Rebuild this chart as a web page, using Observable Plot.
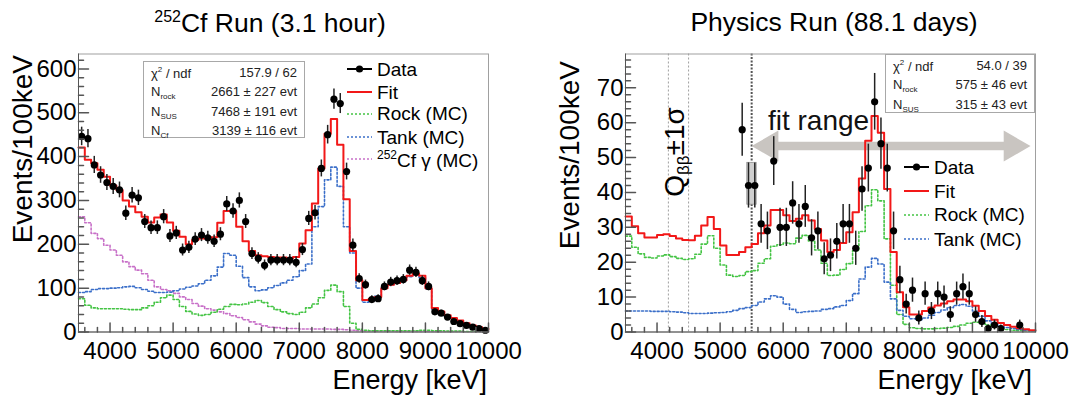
<!DOCTYPE html>
<html><head><meta charset="utf-8">
<script src="https://cdn.jsdelivr.net/npm/d3@7"></script>
<script src="https://cdn.jsdelivr.net/npm/@observablehq/plot@0.6"></script>
<style>
body{margin:0;background:#fff;font-family:"Liberation Sans",Arial,Helvetica,sans-serif;}
#wrap{position:relative;width:1070px;height:399px;overflow:hidden;background:#fff;}
.abs{position:absolute;white-space:nowrap;color:#000;line-height:1;}
.stats{position:absolute;border:1px solid #a8a8a8;background:#fff;font-size:13px;color:#222;box-sizing:border-box;}
.stats .row{position:absolute;left:7px;right:7px;height:16px;}
.stats .row span{position:absolute;top:0;}
.stats .row .v{right:0;}
.stats sub{font-size:8px;vertical-align:-3px;}
.stats sup{font-size:8px;vertical-align:6px;}
.leg{position:absolute;font-size:19px;white-space:nowrap;line-height:1;}
.leg svg{position:absolute;}
.leg span{position:absolute;}
</style></head><body><div id="wrap"></div>
<script>
// ---------- data ----------
const binLow = [3500,3600,3700,3800,3900,4000,4100,4200,4300,4400,4500,4600,4700,4800,4900,5000,5100,5200,5300,5400,5500,5600,5700,5800,5900,6000,6100,6200,6300,6400,6500,6600,6700,6800,6900,7000,7100,7200,7300,7400,7500,7600,7700,7800,7900,8000,8100,8200,8300,8400,8500,8600,8700,8800,8900,9000,9100,9200,9300,9400,9500,9600,9700,9800,9900];
const binWidth = 100;
const xRange = [3500, 10000];

// Cf run (left)
const cfData = [446,441,381,358,341,332,324,271,312,306,252,238,238,263,219,226,187,193,212,221,215,207,223,292,276,300,252,179,168,152,164,164,164,164,159,188,259,272,373,450,531,521,366,198,122,108,74,76,104,114,117,120,141,136,117,104,46,43,34,24,19,15,11,8,4];
const cfFit  = [421,393,385,370,354,334,324,300,286,273,263,250,261,268,250,231,217,200,210,213,213,216,249,276,276,240,207,185,175,173,171,170,170,168,171,202,232,293,373,452,486,427,303,185,118,73,75,80,100,108,112,118,128,133,128,100,55,47,38,32,26,20,15,11,7];
const cfRock = [76,61,55,53,53,53,53,52,51,51,55,60,68,78,84,74,58,47,41,38,40,45,52,58,63,62,64,68,72,67,58,51,46,42,40,45,55,64,78,95,107,92,58,20,6,4,3,3,3,3,3,3,3,3,4,4,3,3,2,2,2,1,1,1,0.5];
const cfTank = [90,92,97,99,99,100,101,103,104,101,97,93,90,90,91,94,98,102,105,110,118,128,148,179,175,150,124,103,94,96,101,106,112,118,126,140,155,240,286,347,376,332,240,180,100,68,72,82,100,108,112,118,126,130,124,98,52,45,36,30,25,19,14,10,5];
const cfGamma = [263,249,225,213,198,187,175,160,149,141,133,118,103,97,94,88,80,74,65,59,53,50,46,42,37,33,28,23,18,14,11,10,8,8,8,7,7,7,7,7,6,6,5,4,3,2,2,2,2,2,1.5,1.5,1.5,1.5,1.5,1,1,1,1,1,1,0.5,0.5,0.5,0.5];

// Physics run (right)
const phE = [5350,5450,5550,5650,5750,5850,5950,6050,6150,6250,6350,6450,6550,6650,6750,6850,6950,7050,7150,7250,7350,7450,7550,7650,7750,7850,7950,8050,8150,8250,8350,8450,8550,8650,8750,8850,8950,9050,9150,9250,9350,9450,9750];
const phData = [58,42,42,31,29,49,30,30,37,31,36,27,29,21,22,26,31,31,24,41,47,66,54,47,29,15,8,12,4,11,6,11,10,5,11,13,11,5,3,1,2,1,2];
const phFit  = [33.1,30.3,28.3,27.1,27.1,27.8,28.0,27.5,26.8,26.4,26.3,27.6,30.5,33.0,29.5,24.8,22.1,22.1,22.9,24.3,25.2,28.3,30.5,35.0,35.0,33.5,31.8,32.5,33.5,32.0,29.5,26.2,22.9,23.5,25.5,28.6,34.3,44.0,54.8,61.9,57.1,41.0,22.9,11.4,7.1,5.0,5.0,6.0,7.0,7.6,8.2,8.8,9.3,9.3,8.8,7.5,6.0,4.6,3.5,2.6,2.0,1.5,1.1,0.8,0.5];
const phRock = [27.5,24.3,22.4,21.4,21.2,21.8,22.1,21.6,21.1,20.8,21.0,22.3,25.2,27.6,24.0,19.2,16.3,15.9,16.2,17.3,17.6,19.7,21.0,24.6,25.0,25.5,25.3,26.9,27.7,26.1,23.5,19.7,16.2,16.3,17.9,19.6,23.3,28.8,36.2,40.8,37.6,26.7,13.4,5.0,2.2,1.2,1.0,0.9,0.9,1.0,1.1,1.3,1.6,2.0,2.5,2.8,2.5,2.0,1.5,1.0,0.7,0.5,0.4,0.3,0.2];
const phTank = [6.0,6.0,6.0,6.0,5.9,5.9,5.9,5.8,5.7,5.5,5.3,5.3,5.3,5.4,5.5,5.6,5.8,6.2,6.7,7.0,7.6,8.6,9.5,10.4,10.0,8.0,6.5,5.6,5.8,5.9,6.0,6.5,6.7,7.2,7.6,9.0,11.0,15.2,18.6,21.1,19.5,14.3,9.5,6.2,4.5,3.8,3.5,4.0,4.8,5.6,6.3,7.0,7.6,7.9,7.4,6.0,4.5,3.2,2.3,1.7,1.3,1.0,0.7,0.5,0.3];

// annotations (right)
const qbbLines = [4180, 4500];
const fitRangeStart = [5500];
const fitRangeArrow = [{x1: 5500, x2: 9920, y: 53.3}];
const fitRangeLabel = [{x: 6560, y: 60.6, text: "fit range"}];
const qbbLabel = {x: 4310, y: 51.6};
const sysBox = [{x1: 5430, x2: 5580, y1: 36.5, y2: 48.5}];

// axes
const xMajor = [4000,5000,6000,7000,8000,9000,10000];
const yMajorL = [0,100,200,300,400,500,600];
const yMajorR = [0,10,20,30,40,50,60,70];

// colors / styles
const C = {fit:"#f21818", rock:"#44c444", tank:"#3b6fc9", gamma:"#c870c8", data:"#000"};

// ---------- helpers ----------
const stepTable = vals => binLow.map((x,i)=>({x, y: vals[i]})).concat([{x: xRange[1], y: vals[vals.length-1]}]);
const tickShape = {draw(ctx, l){ ctx.moveTo(0,0); ctx.lineTo(0,-l); }};
const hist = (vals, color, dashed, w) => Plot.line(stepTable(vals), {x:"x", y:"y", curve:"step-after", stroke: color, strokeWidth: w, strokeDasharray: dashed ? "2,2" : null});

function panel({yMax, yMajor, yMinorStep, comps, fit, pts, extraBack = [], extraFront = [], marginLeft, marginRight}) {
  const yMinor = d3.range(0, yMax, yMinorStep).filter(v => !yMajor.includes(v));
  const xMinor = d3.range(3600, 10000, 200).filter(v => !xMajor.includes(v));
  return Plot.plot({
    width: 535, height: 359,
    marginLeft, marginRight, marginTop: 13.5, marginBottom: 67.5,
    x: {domain: xRange, axis: null},
    y: {domain: [0, yMax], axis: null},
    style: {fontFamily: "'Liberation Sans', Arial, Helvetica, sans-serif", fontSize: "24px", color: "#000", background: "transparent", overflow: "visible"},
    marks: [
      ...extraBack,
      ...comps.map(c => hist(c.vals, c.color, true, 1.6)),
      hist(fit, C.fit, false, 2),
      Plot.ruleX(pts, {x: "x", y1: d => d.y - Math.sqrt(d.y), y2: d => d.y + Math.sqrt(d.y), stroke: "#222", strokeWidth: 1.5}),
      Plot.dot(pts, {x: "x", y: "y", r: 3.6, fill: C.data, stroke: null}),
      ...extraFront,
      Plot.frame({stroke: "#a0a0a0"}),
      Plot.ruleX([xRange[0]], {stroke: "#555", strokeWidth: 1}),
      Plot.ruleY([0], {stroke: "#555", strokeWidth: 1}),
      Plot.vector(yMajor, {y: d => d, frameAnchor: "left", length: 10, rotate: 90, anchor: "start", shape: tickShape, stroke: "#555"}),
      Plot.vector(yMinor, {y: d => d, frameAnchor: "left", length: 5, rotate: 90, anchor: "start", shape: tickShape, stroke: "#555"}),
      Plot.vector(xMajor, {x: d => d, frameAnchor: "bottom", length: 9, rotate: 0, anchor: "start", shape: tickShape, stroke: "#555"}),
      Plot.vector(xMinor, {x: d => d, frameAnchor: "bottom", length: 4.5, rotate: 0, anchor: "start", shape: tickShape, stroke: "#555"}),
      Plot.axisY({ticks: yMajor, tickSize: 0, tickPadding: 2, fontSize: 24, label: null, tickFormat: d => String(d)}),
      Plot.axisX({ticks: xMajor, tickSize: 0, tickPadding: 10, fontSize: 24, label: null, tickFormat: d => String(d)})
    ]
  });
}

const wrap = document.getElementById("wrap");
function place(el, left, top) { el.style.position = "absolute"; el.style.left = left + "px"; el.style.top = top + "px"; wrap.appendChild(el); return el; }
function div(cls, html, css) { const d = document.createElement("div"); d.className = cls; d.innerHTML = html; Object.assign(d.style, css || {}); wrap.appendChild(d); return d; }

// ---------- left panel ----------
const leftPlot = panel({
  yMax: 634, yMajor: yMajorL, yMinorStep: 20,
  comps: [{vals: cfGamma, color: C.gamma}, {vals: cfRock, color: C.rock}, {vals: cfTank, color: C.tank}],
  fit: cfFit,
  pts: binLow.map((x,i) => ({x: x + binWidth/2, y: cfData[i]})),
  marginLeft: 78, marginRight: 47
});
place(leftPlot, 0, 40);

// ---------- right panel ----------
const rightPlot = panel({
  yMax: 79.7, yMajor: yMajorR, yMinorStep: 2,
  comps: [{vals: phRock, color: C.rock}, {vals: phTank, color: C.tank}],
  fit: phFit,
  pts: phE.map((x,i) => ({x, y: phData[i]})),
  extraBack: [
    Plot.ruleX(qbbLines, {stroke: "#888", strokeWidth: 0.8, strokeDasharray: "2,2"}),
    Plot.ruleX(fitRangeStart, {stroke: "#555", strokeWidth: 2, strokeDasharray: "2,1.5"}),
    Plot.ruleY(fitRangeArrow, {x1: "x1", x2: "x2", y: "y", stroke: "#c9c5c1", strokeWidth: 8.5, insetLeft: 18, insetRight: 18}),
    Plot.dot(fitRangeArrow, {x: "x1", y: "y", symbol: "triangle", r: 11.5, rotate: -90, dx: 17.8, fill: "#c9c5c1", stroke: null}),
    Plot.dot(fitRangeArrow, {x: "x2", y: "y", symbol: "triangle", r: 11.5, rotate: 90, dx: -17.8, fill: "#c9c5c1", stroke: null}),
    Plot.rect(sysBox, {x1: "x1", x2: "x2", y1: "y1", y2: "y2", fill: "#cfcfcf", stroke: "#9a9a9a", strokeWidth: 0.8}),
    Plot.text(fitRangeLabel, {x: "x", y: "y", text: "text", fontSize: 28, fill: "#111"})
  ],
  marginLeft: 90, marginRight: 35
});
place(rightPlot, 535, 40);

// Q_bb label (rotated) placed through the plot's scales
{
  const sx = rightPlot.scale("x"), sy = rightPlot.scale("y");
  const px = 535 + sx.apply(qbbLabel.x), py = 40 + sy.apply(qbbLabel.y);
  const d = div("abs", "Q<sub style='font-size:17px;vertical-align:-5px'>ββ</sub>±1σ", {fontSize: "28px"});
  d.style.left = px + "px"; d.style.top = py + "px";
  d.style.transformOrigin = "0 0";
  d.style.transform = "rotate(-90deg) translate(-50%,-50%)";
}

// ---------- titles ----------
div("abs", "<sup style='font-size:16px;vertical-align:10px'>252</sup>Cf Run (3.1 hour)", {fontSize: "26.5px", left: "270px", top: "9px", transform: "translateX(-50%)"});
div("abs", "Physics Run (88.1 days)", {fontSize: "26.5px", left: "834px", top: "9px", transform: "translateX(-50%)"});

// axis titles
for (const [x, yTop] of [[23, 55], [570, 61]]) {
  div("abs", "Events/100keV", {fontSize: "28px", left: x + "px", top: yTop + "px", transformOrigin: "0 0", transform: "rotate(-90deg) translate(-100%,-50%)"});
}
for (const xr of [487, 1032]) {
  div("abs", "Energy [keV]", {fontSize: "27px", left: xr + "px", top: "367px", transform: "translateX(-100%)"});
}

// ---------- stats boxes ----------
function stats(left, top, w, h, rows) {
  return div("stats", rows.map((r, i) => `<div class="row" style="top:${3 + i*19.4}px"><span>${r[0]}</span><span class="v">${r[1]}</span></div>`).join(""), {left: left+"px", top: top+"px", width: w+"px", height: h+"px"});
}
stats(143, 61, 162, 77, [
  ["χ<sup>2</sup> / ndf", "157.9 / 62"],
  ["N<sub>rock</sub>", "2661 ± 227 evt"],
  ["N<sub>SUS</sub>", "7468 ± 191 evt"],
  ["N<sub>Cf</sub>", "3139 ± 116 evt"]
]);
stats(885, 54, 150, 59, [
  ["χ<sup>2</sup> / ndf", "54.0 / 39"],
  ["N<sub>rock</sub>", "575 ± 46 evt"],
  ["N<sub>SUS</sub>", "315 ± 43 evt"]
]);

// ---------- legends ----------
function legend(x0, ys, items) {
  items.forEach((it, i) => {
    const y = ys[i];
    const dash = it.dash ? "stroke-dasharray='2,2'" : "";
    const dot = it.dot ? `<circle cx='12.5' cy='5' r='3.6' fill='#000'/>` : "";
    const sw = it.dash ? 1.6 : 2;
    const s = `<svg width='25' height='10' style='left:0;top:-5px'><line x1='0' y1='5' x2='25' y2='5' stroke='${it.color}' stroke-width='${sw}' ${dash}/>${dot}</svg>`;
    div("leg", s + `<span style='left:30px;top:-9.5px'>${it.label}</span>`, {left: x0 + "px", top: y + "px"});
  });
}
legend(347, [69, 92, 113.5, 137, 158.5], [
  {label: "Data", color: "#000", dot: true},
  {label: "Fit", color: C.fit},
  {label: "Rock (MC)", color: C.rock, dash: true},
  {label: "Tank (MC)", color: C.tank, dash: true},
  {label: "<sup style='font-size:12px;vertical-align:8px'>252</sup>Cf γ (MC)", color: C.gamma, dash: true}
]);
legend(904, [167, 191, 214.5, 239], [
  {label: "Data", color: "#000", dot: true},
  {label: "Fit", color: C.fit},
  {label: "Rock (MC)", color: C.rock, dash: true},
  {label: "Tank (MC)", color: C.tank, dash: true}
]);
</script>
</body></html>
